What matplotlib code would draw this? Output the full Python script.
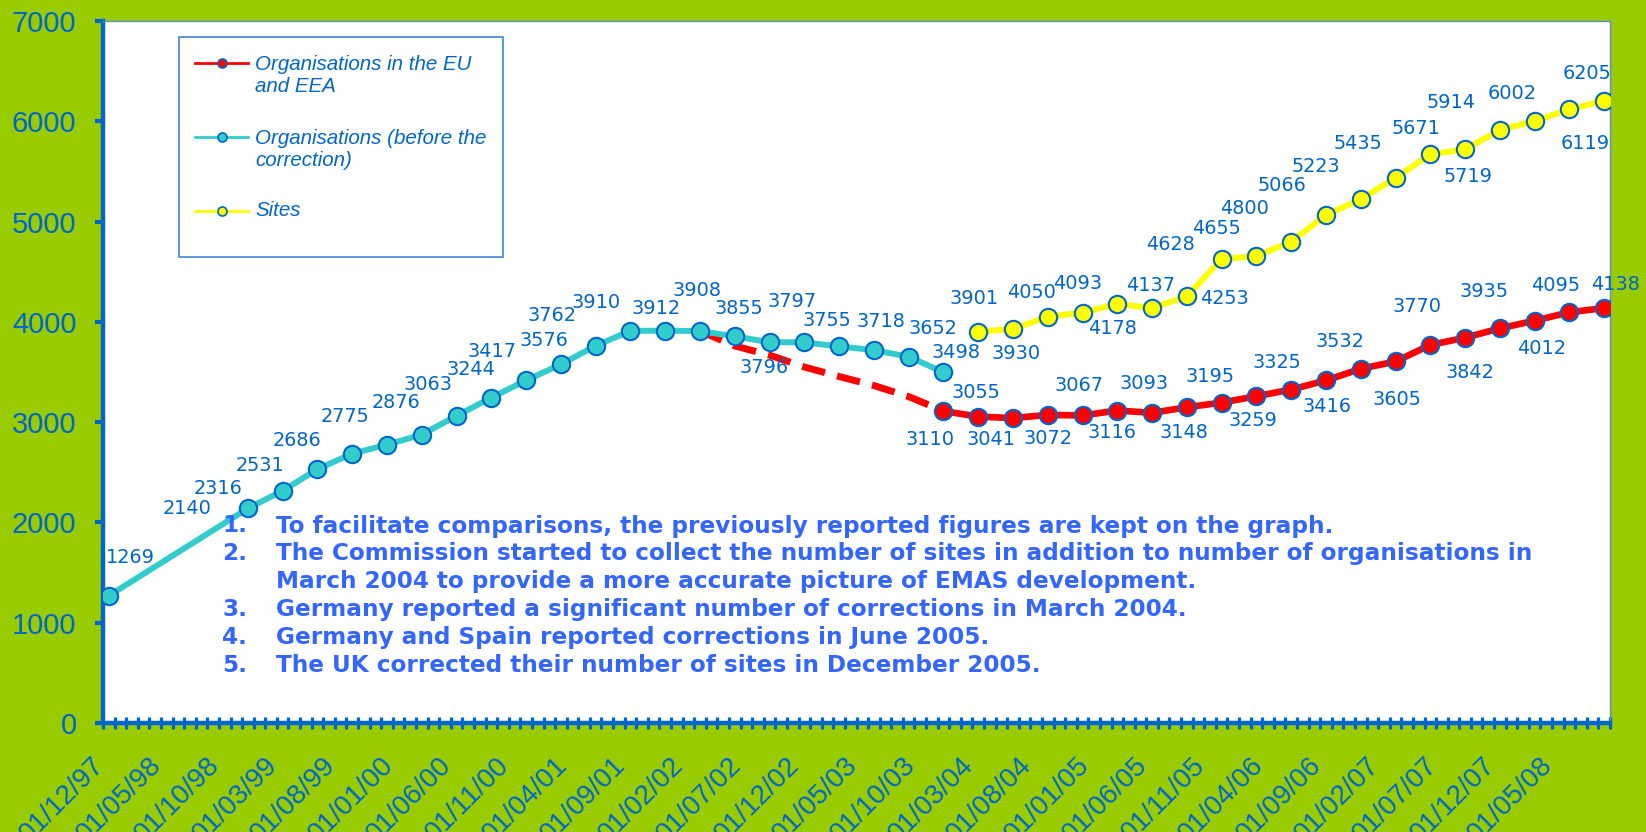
import pandas as pd
import matplotlib
matplotlib.use('Agg')
import matplotlib.pyplot as plt
from matplotlib.lines import Line2D
from matplotlib.patches import Rectangle
from matplotlib.ticker import FixedLocator
from matplotlib.transforms import ScaledTranslation

plt.rcParams['font.family'] = ['Liberation Sans', 'DejaVu Sans']

# --- data (dates are the first of the month) ---
old_dates = ['1997-12'] + list(pd.date_range('1998-12-01', '2003-12-01', freq='3MS').strftime('%Y-%m'))
old_values = [1269, 2140, 2316, 2531, 2686, 2775, 2876, 3063, 3244, 3417, 3576,
              3762, 3910, 3912, 3908, 3855, 3797, 3796, 3755, 3718, 3652, 3498]

eu_dates = list(pd.date_range('2003-12-01', '2008-09-01', freq='3MS').strftime('%Y-%m'))
eu_values = [3110, 3055, 3041, 3072, 3067, 3116, 3093, 3148, 3195, 3259,
             3325, 3416, 3532, 3605, 3770, 3842, 3935, 4012, 4095, 4138]

# corrected trend drawn dashed between 03/02 and 12/03 (estimated from the chart)
eu_est_dates = list(pd.date_range('2002-03-01', '2003-12-01', freq='3MS').strftime('%Y-%m'))
eu_est_values = [3908, 3760, 3668, 3550, 3455, 3365, 3255, 3110]

sites_dates = list(pd.date_range('2004-03-01', '2008-09-01', freq='3MS').strftime('%Y-%m'))
sites_values = [3901, 3930, 4050, 4093, 4178, 4137, 4253, 4628, 4655, 4800,
                5066, 5223, 5435, 5671, 5719, 5914, 6002, 6119, 6205]

legend_labels = ['Organisations in the EU\nand EEA', 'Organisations (before the\ncorrection)', 'Sites']

note_numbers = ['1.', '2.', '', '3.', '4.', '5.']
note_lines = ['To facilitate comparisons, the previously reported figures are kept on the graph.',
              'The Commission started to collect the number of sites in addition to number of organisations in',
              'March 2004 to provide a more accurate picture of EMAS development.',
              'Germany reported a significant number of corrections in March 2004.',
              'Germany and Spain reported corrections in June 2005.',
              'The UK corrected their number of sites in December 2005.']

# label offsets in pixels (dx right, dy down) from each point
old_offsets = [(22, -38), (-61, 0), (-65, -2), (-57, -4), (-55, -13), (-42, -28), (-26, -32),
               (-29, -31), (-20, -28), (-34, -29), (-17, -24), (-44, -30), (-34, -28), (-9, -22),
               (-3, -41), (4, -28), (23, -41), (-40, 25), (-12, -26), (7, -29), (24, -28), (13, -20)]
eu_offsets = [(-13, 28), (-2, -24), (-22, 21), (0, 24), (-4, -30), (-5, 22), (-8, -29), (-3, 25),
              (-12, -26), (-3, 24), (-14, -27), (1, 26), (-21, -27), (1, 38), (-13, -38), (5, 35),
              (-16, -37), (7, 28), (-14, -27), (11, -24)]
sites_offsets = [(-4, -33), (3, 25), (-16, -24), (-5, -29), (-5, 24), (-2, -23), (38, 2),
                 (-51, -14), (-40, -28), (-47, -33), (-44, -29), (-45, -33), (-38, -34),
                 (-14, -26), (3, 27), (-49, -27), (-23, -28), (16, 34), (-17, -27)]


def month_index(s):
    p = pd.Period(s, 'M')
    return (p.year - 1997) * 12 + p.month - 12


BLUE = '#0066CC'
W, H = 1646, 832


def fx(x):
    return x / W


def fy(y):
    return 1 - y / H


fig = plt.figure(figsize=(W / 100, H / 100), dpi=100, facecolor='#99CC00')
ax = fig.add_axes([fx(103), fy(723), fx(1610) - fx(103), fy(21) - fy(723)])
ax.set_facecolor('white')

x_old = [month_index(d) for d in old_dates]
x_eu = [month_index(d) for d in eu_dates]
x_est = [month_index(d) for d in eu_est_dates]
x_sites = [month_index(d) for d in sites_dates]

mk = dict(marker='o', markersize=12.5, markeredgecolor=BLUE, markeredgewidth=1.5)
ax.plot(x_est, eu_est_values, color='#FF0000', lw=5, dashes=(3.4, 1.8), zorder=2)
ax.plot(x_old, old_values, color='#33CCCC', lw=4.3, markerfacecolor='#33CCCC', zorder=3, **mk)
ax.plot(x_eu, eu_values, color='#FF0000', lw=4.8, markerfacecolor='#FF0000', zorder=3, **mk)
ax.plot(x_sites, sites_values, color='#FFFF00', lw=4.3, markerfacecolor='#FFFF00', zorder=3, **mk)

for xs, vals, offs in [(x_old, old_values, old_offsets), (x_eu, eu_values, eu_offsets),
                       (x_sites, sites_values, sites_offsets)]:
    for x, v, (dx, dy) in zip(xs, vals, offs):
        ax.annotate(str(v), (x, v), xytext=(dx, -dy), textcoords='offset pixels',
                    ha='center', va='center', fontsize=13.9, family='DejaVu Sans', color=BLUE,
                    annotation_clip=False, zorder=6)

# axes
ax.set_xlim(-0.5, 129.5)
ax.set_ylim(0, 7000)
ax.set_yticks(range(0, 7001, 1000))
ax.tick_params(axis='y', direction='out', length=6, width=3, color=BLUE,
               labelsize=21, labelcolor=BLUE, pad=13)

major = list(range(0, 126, 5))
ax.xaxis.set_major_locator(FixedLocator(major))
ax.set_xticklabels([(pd.Timestamp('1997-12-01') + pd.DateOffset(months=m)).strftime('%d/%m/%y')
                    for m in major])
ax.xaxis.set_minor_locator(FixedLocator([m - 0.5 for m in range(0, 131)]))
ax.xaxis.remove_overlapping_locs = False
ax.tick_params(axis='x', which='major', length=0, labelsize=20, labelcolor=BLUE, pad=21)
ax.tick_params(axis='x', which='minor', direction='inout', length=8.5, width=2.3, color=BLUE)
shift = ScaledTranslation(-18 / 100, 0, fig.dpi_scale_trans)
for lab in ax.get_xticklabels():
    lab.set_rotation(45)
    lab.set_ha('right')
    lab.set_rotation_mode('anchor')
    lab.set_transform(lab.get_transform() + shift)

for side in ['left', 'bottom']:
    ax.spines[side].set_color(BLUE)
    ax.spines[side].set_linewidth(3.2)
for side in ['top', 'right']:
    ax.spines[side].set_color('#5B8BD0')
    ax.spines[side].set_linewidth(1)

# legend drawn by hand so the handle sits on the first line of text
fig.add_artist(Rectangle((fx(178.5), fy(257)), fx(503) - fx(178.5), fy(37) - fy(257),
                         transform=fig.transFigure, facecolor='white', edgecolor='#3F86DA', lw=1.2))
leg_colors = ['#FF0000', '#33CCCC', '#FFFF00']
leg_rows = [62.7, 136.7, 210.7]
for lab, col, yc in zip(legend_labels, leg_colors, leg_rows):
    fig.add_artist(Line2D([fx(195), fx(248)], [fy(yc), fy(yc)], color=col, lw=2,
                          transform=fig.transFigure))
    fig.add_artist(Line2D([fx(221.5)], [fy(yc)], marker='o', markersize=6.5, markerfacecolor=col,
                          markeredgecolor=BLUE, markeredgewidth=1.2, transform=fig.transFigure))
    n = lab.count('\n')
    fig.text(fx(255), fy(yc + n * 12.3), lab, fontsize=14.8, style='italic', color=BLUE,
             ha='left', va='center')

# notes
for i, (num, line) in enumerate(zip(note_numbers, note_lines)):
    yc = 526 + i * 27.8
    fig.text(fx(222), fy(yc), num, fontsize=16.65, fontweight='bold', family='DejaVu Sans',
             color='#3366FF', ha='left', va='center')
    fig.text(fx(276), fy(yc), line, fontsize=16.65, fontweight='bold', family='DejaVu Sans',
             color='#3366FF', ha='left', va='center')

fig.savefig('out.png', dpi=100, facecolor=fig.get_facecolor())
